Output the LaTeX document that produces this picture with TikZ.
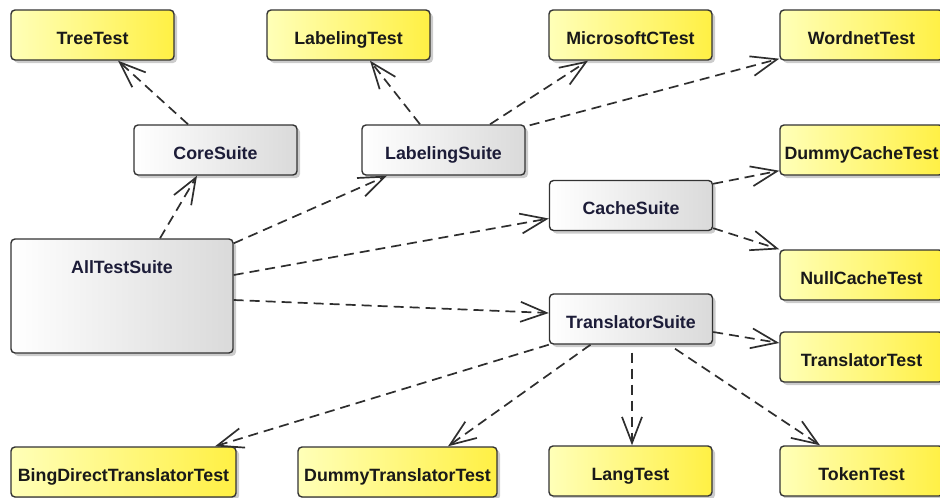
\documentclass[tikz,border=0pt]{standalone}
\usepackage{fontspec}
\setmainfont{Liberation Sans}
\usetikzlibrary{arrows.meta,shadows}

\definecolor{edgegray}{HTML}{333333}
\definecolor{linegray}{HTML}{2E2E2E}
\definecolor{testleft}{HTML}{FFFFB8}
\definecolor{testright}{HTML}{FFF044}
\definecolor{suiteright}{HTML}{DADADA}
\definecolor{suitetext}{HTML}{1C1C38}

\tikzset{
  box/.style={draw=edgegray, line width=1.4pt, rounded corners=4pt,
    inner xsep=0pt, inner ysep=0pt, text height=34pt, text depth=16pt,
    minimum width=163pt, minimum height=50pt,
    font=\fontsize{17.8}{20}\selectfont\bfseries,
    drop shadow={shadow xshift=3pt, shadow yshift=-3pt, opacity=0.2, fill=black}},
  testbox/.style={box, left color=testleft, right color=testright, text=black!90},
  suitebox/.style={box, left color=white, right color=suiteright, text=suitetext},
  dep/.style={draw=linegray, line width=1.7pt, dash pattern=on 10pt off 6pt,
    -{Straight Barb[length=26pt,width=20pt]}}
}

\begin{document}
\begin{tikzpicture}[x=1pt,y=-1pt]
\clip (0,0) rectangle (940,498);

% test classes
\node[testbox] (treetest)     at (92.5,35)  {TreeTest};
\node[testbox] (labelingtest) at (348.5,35) {LabelingTest};
\node[testbox] (mstest)       at (630.5,35) {MicrosoftCTest};
\node[testbox] (wordnet)      at (861.5,35) {WordnetTest};
\node[testbox] (dummycache)   at (861.5,150) {DummyCacheTest};
\node[testbox] (nullcache)    at (861.5,275) {NullCacheTest};
\node[testbox] (transtest)    at (861.5,357) {TranslatorTest};
\node[testbox, minimum width=225pt] (bing)       at (123.5,472) {BingDirectTranslatorTest};
\node[testbox, minimum width=199pt] (dummytrans) at (397.5,472) {DummyTranslatorTest};
\node[testbox] (langtest)     at (630.5,471) {LangTest};
\node[testbox] (tokentest)    at (861.5,471) {TokenTest};

% suites
\node[suitebox] (coresuite)  at (215.5,150) {CoreSuite};
\node[suitebox] (labsuite)   at (443.5,150) {LabelingSuite};
\node[suitebox] (cachesuite) at (631,205.5) {CacheSuite};
\node[suitebox] (transsuite) at (631,319)   {TranslatorSuite};
\node[suitebox, minimum width=222pt, text depth=80pt] (alltest) at (122,296) {AllTestSuite};

% dependencies
\draw[dep] ([xshift=-27.5pt]coresuite.north) -- ([xshift=25.5pt]treetest.south);
\draw[dep] ([xshift=38pt]alltest.north) -- ([xshift=-18.5pt]coresuite.south);
\draw[dep] ([yshift=-5pt]alltest.north east) -- ([xshift=-56.5pt]labsuite.south);
\draw[dep] ([xshift=-23.5pt]labsuite.north) -- ([xshift=21.5pt]labelingtest.south);
\draw[dep] ([xshift=46.5pt]labsuite.north) -- ([xshift=-42.5pt]mstest.south);
\draw[dep] ([xshift=4pt,yshift=-1pt]labsuite.north east) -- ([yshift=2pt]wordnet.south west);
\draw[dep] ([yshift=-4pt]cachesuite.north east) -- ([yshift=5pt]dummycache.south west);
\draw[dep] ([yshift=3pt]cachesuite.south east) -- (nullcache.north west);
\draw[dep] ([yshift=21pt]alltest.east) -- ([yshift=-13pt]cachesuite.west);
\draw[dep] ([yshift=-4pt]alltest.east) -- ([yshift=6pt]transsuite.west);
\draw[dep] ([yshift=-13pt]transsuite.east) -- ([yshift=14pt]transtest.west);
\draw[dep] (transsuite.south west) -- ([xshift=91.5pt]bing.north);
\draw[dep] ([xshift=-40.5pt]transsuite.south) -- ([xshift=50.5pt]dummytrans.north);
\draw[dep] ([xshift=1pt,yshift=-8pt]transsuite.south) -- ([xshift=1.5pt]langtest.north);
\draw[dep] ([xshift=44pt,yshift=-4pt]transsuite.south) -- ([xshift=-41.5pt]tokentest.north);
\end{tikzpicture}
\end{document}
